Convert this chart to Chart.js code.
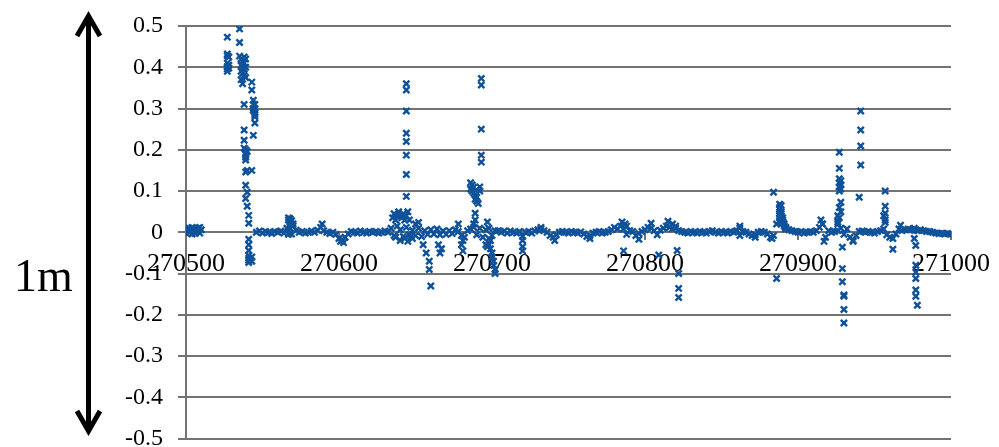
<!DOCTYPE html>
<html><head><meta charset="utf-8">
<script src="https://cdn.jsdelivr.net/npm/chart.js@4.4.1/dist/chart.umd.min.js"></script>
<style>
html,body{margin:0;padding:0;background:#fff;}
#wrap{position:relative;width:999px;height:447px;overflow:hidden;background:#fff;}
#c{position:absolute;left:0;top:0;}
#arrow{position:absolute;left:0;top:0;pointer-events:none;}
#lbl{position:absolute;left:14px;top:253px;font:46px/46px 'Liberation Serif','Times New Roman',serif;color:#000;pointer-events:none;}
</style></head><body>
<div id="wrap">
<canvas id="c" width="999" height="462"></canvas>
<svg id="arrow" width="999" height="447">
  <line x1="88.5" y1="17" x2="88.5" y2="430" stroke="#000" stroke-width="5"/>
  <polyline points="77,36 88.5,16 100,36" fill="none" stroke="#000" stroke-width="5" stroke-linejoin="miter"/>
  <polyline points="77,411 88.5,431 100,411" fill="none" stroke="#000" stroke-width="5" stroke-linejoin="miter"/>
</svg>
<div id="lbl">1m</div>
</div>
<script>
// ---- axis settings / tick labels ----
const xMin = 270500, xMax = 271000, xStep = 100;
const yMin = -0.5, yMax = 0.5, yStep = 0.1;
const xTickLabels = ['270500','270600','270700','270800','270900','271000'];
const yTickLabels = ['-0.5','-0.4','-0.3','-0.2','-0.1','0','0.1','0.2','0.3','0.4','0.5'];

// ---- continuous baseline readings: x = 270546, 270548, ... 271000 ----
const baselineStartX = 270546;
const baselineStepX = 2;
const baselineY = [
  0, 0.003, -0.002, 0.002, 0, -0.003, 0.002, 0, 0.003, -0.002,          // 270546-270564
  0.01, 0.03, 0.02, 0.005, 0, 0.002, -0.002, 0, 0.003, 0,               // 270566-270584
  0.005, 0.012, 0.004, 0, -0.003, 0, -0.005, -0.015, -0.02, -0.012,     // 270586-270604
  -0.004, 0.002, 0, -0.002, 0.003, 0, -0.002, 0.002, 0, 0.002,          // 270606-270624
  -0.002, 0, 0.003, 0, 0.01, -0.008, 0.015, 0.006, -0.01, 0.012,        // 270626-270644
  -0.006, 0.005, -0.008, 0.01, -0.01, 0.004, -0.005, 0.006, -0.004, 0.008, // 270646-270664
  -0.006, 0.003, -0.005, 0.004, -0.003, 0.006, 0.002, -0.008, -0.012, 0.004, // 270666-270684
  0.008, 0.012, -0.006, 0.01, -0.012, 0.006, -0.015, -0.008, 0.004, 0.004, // 270686-270704
  0, 0.003, -0.002, 0.003, 0, -0.002, 0.002, -0.01, 0, 0.002,           // 270706-270724
  -0.002, 0.003, 0.006, 0.008, 0.004, 0, -0.008, -0.012, -0.006, 0,     // 270726-270744
  0.002, 0, -0.002, 0.002, 0, -0.002, 0.001, -0.004, -0.01, -0.008,     // 270746-270764
  -0.002, 0, 0.002, -0.002, 0, 0.002, 0.006, 0.012, 0.008, 0.015,       // 270766-270784
  0.008, -0.005, 0.004, 0.002, -0.008, -0.003, 0.002, 0.006, 0.012, 0.01, // 270786-270804
  0.004, -0.006, 0.005, 0.01, 0.015, 0.012, 0.008, 0.01, 0.004, 0.002,  // 270806-270824
  0, -0.002, 0.002, 0, -0.002, 0.002, 0, -0.002, 0.002, 0.004,          // 270826-270844
  0, -0.002, 0.002, 0, -0.002, 0.002, 0, 0.004, 0.01, 0.002,            // 270846-270864
  0, -0.004, -0.008, -0.006, 0, 0.002, 0, -0.004, -0.012, -0.008,       // 270866-270884
  0.02, 0.04, 0.025, 0.012, 0.006, 0.004, 0.002, 0, 0.002, -0.002,      // 270886-270904
  0, 0.002, 0, 0.004, 0.012, 0.02, -0.012, 0.004, 0, 0.002,             // 270906-270924
  0.004, 0.01, -0.005, 0.008, -0.012, -0.02, -0.008, 0.002, 0.003, 0,   // 270926-270944
  0.002, 0, -0.002, 0.002, 0.004, 0.008, -0.006, -0.012, -0.015, -0.004, // 270946-270964
  0.008, 0.004, 0.006, 0.008, 0.006, 0.01, 0.004, 0.006, 0.004, 0.002,  // 270966-270984
  0.002, 0, -0.002, -0.003, -0.002, -0.004, -0.003, -0.004              // 270986-271000
];

// ---- scattered readings [x, y] ----
const leadCluster = [
  [270500,0.008],[270500,-0.002],[270501,0.004],[270502,0.01],[270502,0],[270503,0.006],
  [270504,-0.004],[270504,0.012],[270505,0.004],[270506,0.008],[270506,-0.003],[270507,0.002],
  [270508,0.01],[270508,0.004],[270509,-0.002],[270510,0.006],[270509,0.012],[270507,0.009]
];
const burst270540 = [
  [270527,0.473],[270527,0.432],[270527,0.428],[270527,0.41],[270527,0.402],[270527,0.396],[270527,0.39],
  [270528,0.425],[270528,0.405],[270528,0.398],
  [270535,0.493],[270535,0.46],[270535,0.427],
  [270536,0.42],[270536,0.405],[270536,0.39],[270536,0.37],[270537,0.415],[270537,0.40],[270537,0.385],[270537,0.36],
  [270538,0.425],[270538,0.41],[270538,0.395],[270538,0.38],[270538,0.31],[270539,0.42],[270539,0.40],[270539,0.375],
  [270538,0.248],[270538,0.223],[270538,0.204],
  [270539,0.2],[270539,0.19],[270539,0.182],[270539,0.175],[270539,0.146],[270539,0.114],[270539,0.082],
  [270540,0.196],[270540,0.15],[270540,0.097],[270540,0.063],
  [270541,0.041],[270541,0.022],[270541,-0.017],[270541,-0.044],
  [270541,-0.056],[270541,-0.063],[270541,-0.068],[270541,-0.073],[270541,-0.03],
  [270543,0.15],[270543,-0.06],[270543,-0.07],
  [270543,0.364],[270543,0.345],
  [270544,0.32],[270544,0.31],[270544,0.30],[270544,0.295],[270545,0.29],[270545,0.285],[270545,0.28],
  [270545,0.265],[270544,0.235],[270545,0.3],[270545,0.31]
];
const burst270568 = [
  [270567,0.035],[270567,0.03],[270568,0.033],[270568,0.025],[270569,0.028],[270569,0.02],
  [270568,0.01],[270567,-0.005],[270569,-0.004],[270570,0.015],
  [270589,0.02],[270601,-0.022],[270603,-0.025],[270602,-0.018]
];
const burst270645 = [
  [270635,0.035],[270636,0.045],[270637,0.03],[270638,0.04],[270639,0.05],[270640,0.04],
  [270641,0.035],[270642,0.045],[270643,0.03],[270644,0.04],[270645,0.05],[270646,0.03],
  [270644,0.36],[270644,0.345],[270644,0.294],[270644,0.24],[270644,0.22],[270644,0.187],[270644,0.14],[270644,0.087],
  [270637,-0.012],[270640,-0.02],[270643,-0.015],[270645,-0.022],[270647,-0.01],
  [270652,0.024],[270655,-0.03],[270657,-0.05],[270659,-0.07],[270659,-0.09],[270660,-0.13],
  [270665,-0.03],[270666,-0.05],[270650,0.02],[270648,-0.015],[270667,-0.04],
  [270678,0.02],[270681,-0.02],[270681,-0.045],[270680,-0.03]
];
const burst270690 = [
  [270686,0.12],[270687,0.115],[270688,0.11],[270686,0.105],[270687,0.1],[270688,0.095],[270689,0.09],
  [270690,0.085],[270689,0.08],[270690,0.075],[270691,0.07],[270692,0.1],[270692,0.11],
  [270689,0.046],[270689,0.03],[270688,0.02],
  [270693,0.373],[270693,0.357],[270693,0.25],[270693,0.187],[270693,0.17],
  [270697,0.025],[270698,0.01],[270699,-0.02],[270698,-0.03],[270699,-0.04],[270700,-0.05],[270700,-0.06],
  [270701,-0.07],[270701,-0.08],[270702,-0.09],[270702,-0.1],[270697,-0.035],[270696,-0.03],
  [270720,-0.02],[270720,-0.035],[270720,-0.045],
  [270732,0.012],[270741,-0.02],[270764,-0.015]
];
const burst270820 = [
  [270785,0.025],[270787,0.02],[270788,0.015],[270786,-0.045],[270796,-0.017],[270804,0.022],
  [270809,-0.055],[270815,0.027],[270818,0.02],[270820,0.015],
  [270821,-0.044],[270822,-0.1],[270822,-0.136],[270822,-0.158],
  [270862,0.015],[270862,-0.008],[270872,-0.012],[270883,-0.015],[270884,0.097],[270886,-0.112]
];
const burst270890 = [
  [270888,0.068],[270888,0.06],[270888,0.055],[270889,0.065],[270889,0.05],[270889,0.045],[270889,0.04],
  [270890,0.035],[270890,0.03],[270890,0.025],[270891,0.02],[270891,0.015],[270892,0.01],[270892,0.008],
  [270888,0.045],[270888,0.035],[270888,0.025],[270889,0.03],[270889,0.02],
  [270915,0.03],[270916,0.02],[270917,-0.022]
];
const burst270930 = [
  [270927,0.194],[270927,0.155],[270927,0.13],[270928,0.125],[270927,0.12],[270928,0.115],[270927,0.11],
  [270928,0.105],[270927,0.1],[270928,0.073],[270927,0.06],[270928,0.05],[270926,0.04],[270927,0.035],
  [270926,0.025],[270926,0.02],
  [270929,-0.036],[270929,-0.088],[270929,-0.12],[270930,-0.152],[270930,-0.155],[270930,-0.187],[270930,-0.22],
  [270936,-0.022],
  [270941,0.294],[270941,0.248],[270941,0.209],[270941,0.163],[270940,0.085]
];
const burst270975 = [
  [270957,0.1],[270957,0.063],[270957,0.046],[270956,0.04],[270957,0.03],[270957,0.024],
  [270962,-0.041],[270967,0.017],
  [270976,0.005],[270976,-0.015],[270977,-0.032],[270977,-0.08],[270977,-0.097],[270977,-0.112],
  [270977,-0.14],[270977,-0.155],[270978,-0.177]
];

// ---- build chart ----
const markColor = '#10529a';
const gridColor = '#737373';
const baselinePoints = baselineY.map((y, i) => ({x: baselineStartX + i * baselineStepX, y}));
const scattered = [].concat(leadCluster, burst270540, burst270568, burst270645, burst270690,
                            burst270820, burst270890, burst270930, burst270975)
                    .map(p => ({x: p[0], y: p[1]}));
const markStyle = {
  pointStyle: 'crossRot', pointRadius: 4.4, pointBorderWidth: 2.4,
  borderColor: markColor, backgroundColor: markColor, showLine: false
};

new Chart(document.getElementById('c'), {
  type: 'scatter',
  data: {
    datasets: [
      Object.assign({label: 'baseline', data: baselinePoints}, markStyle),
      Object.assign({label: 'scattered', data: scattered}, markStyle)
    ]
  },
  options: {
    responsive: false,
    animation: false,
    events: [],
    layout: {padding: {left: 0, right: 42, top: 26, bottom: 0}},
    plugins: {legend: {display: false}, tooltip: {enabled: false}},
    scales: {
      x: {
        type: 'linear',
        position: {y: 0},
        min: xMin, max: xMax,
        afterFit: s => { s.height = 0; },
        grid: {drawOnChartArea: false, drawTicks: true, tickLength: 7, color: gridColor, lineWidth: 2},
        border: {display: true, color: gridColor, width: 2},
        ticks: {
          stepSize: xStep, autoSkip: false, maxRotation: 0, padding: 9, color: '#000',
          font: {family: "'Liberation Serif', 'Times New Roman', serif", size: 26},
          callback: (v, i) => xTickLabels[i]
        }
      },
      y: {
        type: 'linear',
        min: yMin, max: yMax,
        afterFit: s => { s.width = 186; },
        grid: {color: gridColor, lineWidth: 2, tickLength: 8, drawTicks: true},
        border: {display: true, color: gridColor, width: 2},
        ticks: {
          stepSize: yStep, padding: 15, color: '#000',
          font: {family: "'Liberation Serif', 'Times New Roman', serif", size: 24, lineHeight: 0.7},
          callback: (v, i) => yTickLabels[i]
        }
      }
    }
  }
});
</script>
</body></html>
